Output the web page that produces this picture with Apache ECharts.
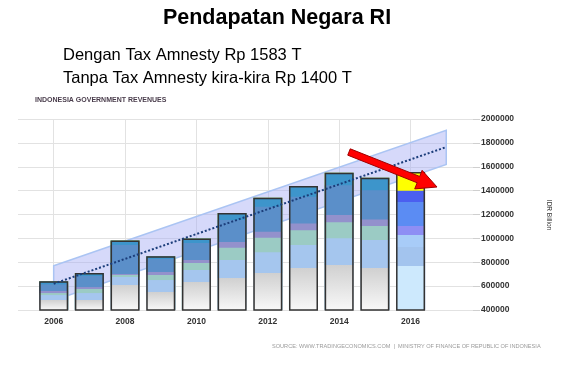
<!DOCTYPE html>
<html>
<head>
<meta charset="utf-8">
<script src="https://cdn.jsdelivr.net/npm/echarts@6/dist/echarts.min.js"></script>
<style>
html,body{margin:0;padding:0;background:#fff;}
#main{width:567px;height:365px;}
</style>
</head>
<body>
<div id="main"></div>
<script>
// ---- data (IDR billion) ----
const years = [2006, 2007, 2008, 2009, 2010, 2011, 2012, 2013, 2014, 2015, 2016];
// top of each colour layer inside the bars
const grayTop   = [484000, 484000, 609000, 551000, 634000, 668000, 710000, 751000, 777000, 751000, 768000];
const lightTop  = [525000, 542000, 676000, 651000, 735000, 818000, 883000, 944000, 1002000, 986000, 927000];
const tealTop   = [542000, 576000, 693000, 693000, 793000, 921000, 1005000, 1069000, 1136000, 1103000, 1028000];
const purpleTop = [559000, 592000, 701000, 718000, 818000, 969000, 1055000, 1125000, 1195000, 1159000, 1103000];
const mediumTop = [615000, 684000, 944000, 827000, 961000, 1153000, 1264000, 1348000, 1446000, 1404000, 1304000];
const revenue   = [640000, 710000, 982000, 850000, 998000, 1212000, 1340000, 1438000, 1550000, 1508000, 1400000];
const taxAmnesty = [0, 0, 0, 0, 0, 0, 0, 0, 0, 0, 157000];
// trend band and dotted trend line
const bandYears = [2006, 2017];
const bandLower = [480000, 1620000];
const bandUpper = [770000, 1905000];
const trendValues = [620000, 1765000];
// axes
const yMin = 400000, yMax = 2000000, yStep = 200000;
const xMin = 2005, xMax = 2017.75;
// texts
const titleText = 'Pendapatan Negara RI';
const line1 = 'Dengan Tax Amnesty Rp 1583 T';
const line2 = 'Tanpa Tax Amnesty kira-kira Rp 1400 T';
const chartName = 'INDONESIA GOVERNMENT REVENUES';
const unitText = 'IDR Billion';
const sourceText = 'SOURCE: WWW.TRADINGECONOMICS.COM  |  MINISTRY OF FINANCE OF REPUBLIC OF INDONESIA';

const FONT = "'Liberation Sans', Arial, sans-serif";
const chart = echarts.init(document.getElementById('main'), null, {renderer: 'canvas'});

const totals = revenue.map((v, i) => v + taxAmnesty[i]);
// layers drawn from the tallest (back) to the shortest (front)
const layers = [
  {tops: totals, color: '#ffff00', c16: '#ffff00'},
  {tops: revenue, color: '#3d95cb', c16: '#4b5ff0'},
  {tops: mediumTop, color: '#5b8fc9', c16: '#5b8cf3'},
  {tops: purpleTop, color: '#9391cc', c16: '#8e8ef4'},
  {tops: tealTop, color: '#9bcbc4', c16: '#a8ccf8'},
  {tops: lightTop, color: '#a5c6ee', c16: '#a3c4ee'},
  {tops: grayTop, color: new echarts.graphic.LinearGradient(0, 0, 0, 1, [{offset: 0, color: '#d0d0d0'}, {offset: 1, color: '#f8f8f8'}]), c16: '#cde9fd'}
];
const last = years.length - 1;
const BW = 29;

const series = [];
series.push({
  type: 'custom', z: 1, silent: true,
  data: [[bandYears[0], bandLower[0], bandUpper[0], bandYears[1], bandLower[1], bandUpper[1]]],
  encode: {x: [0, 3], y: [1, 2, 4, 5]},
  renderItem: function (params, api) {
    const a = api.coord([api.value(0), api.value(2)]);
    const b = api.coord([api.value(3), api.value(5)]);
    const c = api.coord([api.value(3), api.value(4)]);
    const d = api.coord([api.value(0), api.value(1)]);
    return {type: 'polygon', shape: {points: [a, b, c, d]},
      style: {fill: 'rgba(165,170,244,0.45)', stroke: '#aac4f3', lineWidth: 1.5}};
  }
});
series.push({
  type: 'line', z: 0, data: [], silent: true,
  markLine: {z: 0, silent: true, symbol: ['none', 'none'], label: {show: false}, animation: false,
    lineStyle: {color: '#e2e2e2', type: 'solid', width: 1},
    data: years.filter(y => y % 2 === 0).map(y => ({xAxis: y}))}
});
layers.forEach(function (L, k) {
  series.push({
    type: 'bar', z: 3 + k, barWidth: BW, barGap: '-100%', silent: true,
    itemStyle: {color: L.color},
    data: years.map((y, i) => i === last ? {value: [y, L.tops[i]], itemStyle: {color: L.c16}} : [y, L.tops[i]])
  });
});
series.push({
  type: 'bar', z: 12, barWidth: BW, barGap: '-100%', silent: true,
  itemStyle: {color: 'rgba(0,0,0,0)', borderColor: '#333', borderWidth: 1.5},
  data: years.map((y, i) => [y, totals[i]])
});
series.push({
  type: 'line', z: 14, symbol: 'none', silent: true,
  lineStyle: {color: '#1b3d7a', width: 2, type: [2, 2]},
  data: bandYears.map((y, i) => [y, trendValues[i]])
});

const option = {
  animation: false,
  backgroundColor: '#fff',
  grid: {left: 18, right: 94, top: 119, bottom: 55},
  xAxis: {
    type: 'value', min: xMin, max: xMax, interval: 1,
    axisLine: {show: false}, axisTick: {show: false}, splitLine: {show: false},
    axisLabel: {margin: 7, fontSize: 8.5, color: '#333', fontFamily: FONT, fontWeight: 'bold',
      formatter: v => (Number.isInteger(v) && v % 2 === 0 && years.indexOf(v) >= 0) ? String(v) : ''}
  },
  yAxis: {
    type: 'value', position: 'right', min: yMin, max: yMax, interval: yStep,
    axisLine: {show: false},
    axisTick: {show: true, length: 7, lineStyle: {color: '#cfcfcf'}},
    splitLine: {lineStyle: {color: '#e2e2e2', width: 1}},
    axisLabel: {margin: 8, fontSize: 8.5, color: '#333', fontFamily: FONT, fontWeight: 'bold',
      formatter: v => String(v)}
  },
  series: series,
  graphic: [
    {type: 'text', x: 277, y: 18, style: {text: titleText, font: 'bold 21.5px ' + FONT, fill: '#000', textAlign: 'center', textVerticalAlign: 'middle'}},
    {type: 'text', x: 63, y: 55, style: {text: line1, font: '16.5px ' + FONT, fill: '#000', textVerticalAlign: 'middle'}},
    {type: 'text', x: 63, y: 78, style: {text: line2, font: '16.5px ' + FONT, fill: '#000', textVerticalAlign: 'middle'}},
    {type: 'text', x: 35, y: 100, style: {text: chartName, font: 'bold 7px ' + FONT, fill: '#4a3d4c', textVerticalAlign: 'middle'}},
    {type: 'text', x: 272, y: 346, style: {text: sourceText, font: '5.6px ' + FONT, fill: '#9a9a9a', textVerticalAlign: 'middle'}},
    {type: 'text', x: 549, y: 215, rotation: -Math.PI / 2,
      style: {text: unitText, font: '6.5px ' + FONT, fill: '#333', textAlign: 'center', textVerticalAlign: 'middle'}}
  ]
};
chart.setOption(option);

// red annotation arrow
(function () {
  const tail = [349, 152], tip = [437, 187];
  const dx = tip[0] - tail[0], dy = tip[1] - tail[1];
  const len = Math.sqrt(dx * dx + dy * dy);
  const ux = dx / len, uy = dy / len, nx = -uy, ny = ux;
  const sw = 3.4, hw = 10, hl = 20;
  const neck = [tip[0] - ux * hl, tip[1] - uy * hl];
  const pts = [
    [tail[0] + nx * sw, tail[1] + ny * sw],
    [neck[0] + nx * sw, neck[1] + ny * sw],
    [neck[0] + nx * hw, neck[1] + ny * hw],
    tip,
    [neck[0] - nx * hw, neck[1] - ny * hw],
    [neck[0] - nx * sw, neck[1] - ny * sw],
    [tail[0] - nx * sw, tail[1] - ny * sw]
  ];
  const g = option.graphic.slice();
  g.push({type: 'polygon', z: 100, shape: {points: pts}, style: {fill: '#ff0000', stroke: '#a00000', lineWidth: 1}});
  chart.setOption({graphic: g});
})();
</script>
</body>
</html>
